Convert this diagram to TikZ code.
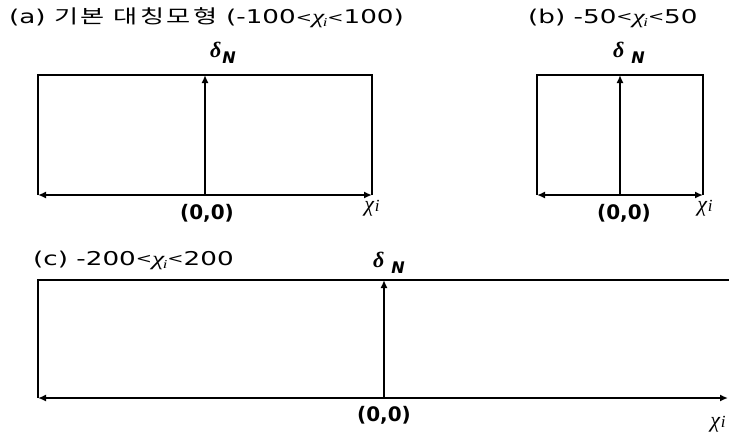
\documentclass[tikz,border=0pt]{standalone}
\usepackage{fontspec}
\setmainfont{DejaVu Sans}
\newfontfamily\kr[LetterSpace=10]{Noto Sans CJK KR}
\newfontfamily\grk{Liberation Serif}
\usetikzlibrary{arrows.meta}
\newcommand{\wide}[1]{\scalebox{1.38}[1]{#1}}
\newcommand{\lt}{{\fontsize{14}{14}\selectfont\raisebox{0.08em}{<}}}
\newcommand{\chii}{{\grk\itshape χ\kern1pt{\fontsize{17}{17}\selectfont i}}}
\newcommand{\chiis}{{\grk\itshape\fontsize{20}{20}\selectfont χ\kern-1pt\raisebox{-0.15em}{\fontsize{12}{12}\selectfont i}}}
\newcommand{\delN}[1]{{\grk\bfseries\itshape δ\kern#1\raisebox{-0.3em}{\rmfamily\bfseries\itshape\fontsize{16}{16}\selectfont N}}}
\begin{document}
\begin{tikzpicture}[x=1pt,y=-1pt,
  ax/.style={line width=1.8pt},
  tip/.style={-{Latex[length=8pt,width=7pt]}},
  tips/.style={{Latex[length=8pt,width=7pt]}-{Latex[length=8pt,width=7pt]}},
  ttl/.style={anchor=west,inner sep=0pt,font=\fontsize{19}{19}\selectfont},
  orig/.style={inner sep=0pt,font=\bfseries\fontsize{20}{20}\selectfont},
  xl/.style={inner sep=0pt,font=\fontsize{22}{22}\selectfont},
  dl/.style={inner sep=0pt,font=\fontsize{22}{22}\selectfont}]
\useasboundingbox (0,0) rectangle (729,437);
% panel (a)
\node[ttl] (ta) at (9,18) {\wide{(a) {\kr 기본 대칭모형}\ (-100\lt\chiis\lt100)}};
\coordinate (a0) at (205,195);
\coordinate (aT) at (205,75);
\coordinate (aL) at (38,195);
\coordinate (aR) at (372,195);
\draw[ax] (aL) |- (aT) -| (aR);
\draw[ax,tip] (a0) -- (aT);
\draw[ax,tips] (aL) -- (aR);
\node[dl] (da) at (223,53) {\delN{1pt}};
\node[orig] (oa) at (207,213) {(0,0)};
\node[xl] (xa) at (372,208) {\chii};
% panel (b)
\node[ttl] (tb) at (528,18) {\wide{(b) -50\lt\chiis\lt50}};
\coordinate (b0) at (620,195);
\coordinate (bT) at (620,75);
\coordinate (bL) at (537,195);
\coordinate (bR) at (703,195);
\draw[ax] (bL) |- (bT) -| (bR);
\draw[ax,tip] (b0) -- (bT);
\draw[ax,tips] (bL) -- (bR);
\node[dl] (db) at (629,53) {\delN{7pt}};
\node[orig] (ob) at (624,213) {(0,0)};
\node[xl] (xb) at (705,208) {\chii};
% panel (c)
\node[ttl] (tc) at (33,260) {\wide{(c) -200\lt\chiis\lt200}};
\coordinate (c0) at (384,398);
\coordinate (cT) at (384,280);
\coordinate (cL) at (38,398);
\coordinate (cR) at (728,398);
\coordinate (cTR) at (729,280);
\draw[ax] (cL) |- (cT) -- (cTR);
\draw[ax,tip] (c0) -- (cT);
\draw[ax,tips] (cL) -- (cR);
\node[dl] (dc) at (389,263) {\delN{7pt}};
\node[orig] (oc) at (384,415) {(0,0)};
\node[xl] (xc) at (718,424) {\chii};
\end{tikzpicture}
\end{document}
